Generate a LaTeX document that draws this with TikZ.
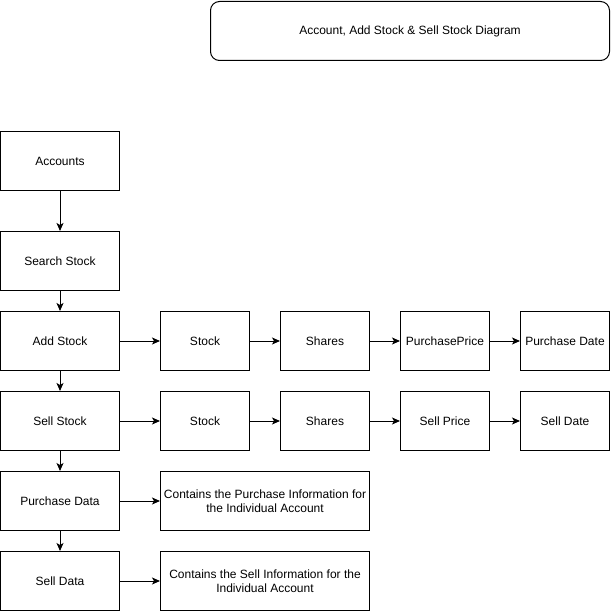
\documentclass[tikz,border=0pt]{standalone}
\usepackage{fontspec}
\setmainfont{Liberation Sans}
\usepackage{tikz}
\usetikzlibrary{shapes,arrows.meta,positioning}

\begin{document}
\begin{tikzpicture}[x=1pt, y=1pt, node distance=20pt, auto,
  font=\fontsize{12pt}{14pt}\selectfont,
  heading/.style={rectangle, rounded corners=9pt, minimum width=399pt, minimum height=59pt, text centered, draw=black, line width=1pt},
  process/.style={rectangle, minimum width=119pt, minimum height=59pt, text centered, draw=black, line width=1pt, inner sep=1pt},
  field/.style={process, minimum width=89pt},
  info/.style={process, minimum width=209pt, align=center},
  arrow/.style={line width=1pt,->,>={Stealth[length=8pt,width=7pt,inset=2pt]}}]

  \useasboundingbox (0,1) rectangle (612,-611);

  \node (title) [heading] at (410,-30) {Account, Add Stock \& Sell Stock Diagram};

  \node (accounts) [process] at (60,-160) {Accounts};
  \node (search) [process, below=40pt of accounts] {Search Stock};
  \node (add) [process, below=of search] {Add Stock};
  \node (sell) [process, below=of add] {Sell Stock};
  \node (purchdata) [process, below=of sell] {Purchase Data};
  \node (selldata) [process, below=of purchdata] {Sell Data};

  \node (addstock) [field, right=40pt of add] {Stock};
  \node (addshares) [field, right=30pt of addstock] {Shares};
  \node (addprice) [field, right=30pt of addshares] {PurchasePrice};
  \node (adddate) [field, right=30pt of addprice] {Purchase Date};

  \node (sellstock) [field, right=40pt of sell] {Stock};
  \node (sellshares) [field, right=30pt of sellstock] {Shares};
  \node (sellprice) [field, right=30pt of sellshares] {Sell Price};
  \node (selldate) [field, right=30pt of sellprice] {Sell Date};

  \node (purchinfo) [info, right=40pt of purchdata] {Contains the Purchase Information for\\the Individual Account};
  \node (sellinfo) [info, right=40pt of selldata] {Contains the Sell Information for the\\Individual Account};

  \draw [arrow] (accounts) -- (search);
  \draw [arrow] (search) -- (add);
  \draw [arrow] (add) -- (sell);
  \draw [arrow] (sell) -- (purchdata);
  \draw [arrow] (purchdata) -- (selldata);

  \draw [arrow] (add) -- (addstock);
  \draw [arrow] (addstock) -- (addshares);
  \draw [arrow] (addshares) -- (addprice);
  \draw [arrow] (addprice) -- (adddate);

  \draw [arrow] (sell) -- (sellstock);
  \draw [arrow] (sellstock) -- (sellshares);
  \draw [arrow] (sellshares) -- (sellprice);
  \draw [arrow] (sellprice) -- (selldate);

  \draw [arrow] (purchdata) -- (purchinfo);
  \draw [arrow] (selldata) -- (sellinfo);
\end{tikzpicture}
\end{document}
